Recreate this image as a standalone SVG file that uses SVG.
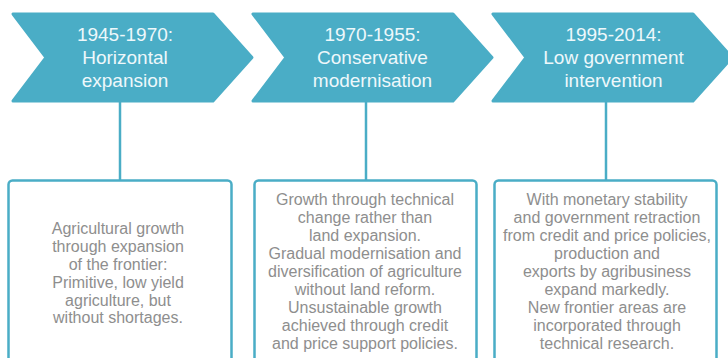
<svg xmlns="http://www.w3.org/2000/svg" width="728" height="358" viewBox="0 0 728 358">
<style>
.chev{fill:#4aadc6;stroke:#4aadc6;stroke-width:3;stroke-linejoin:round}
.ht{font-family:"Liberation Sans",Arial,sans-serif;font-size:19px;fill:#eef8fb;text-anchor:middle}
.box{fill:#ffffff;stroke:#4aadc6;stroke-width:2.5}
.bt{font-family:"Liberation Sans",Arial,sans-serif;font-size:16px;fill:#8e8e8e;text-anchor:middle}
.con{stroke:#4aadc6;stroke-width:2.5;fill:none}
</style>
<rect width="728" height="358" fill="#ffffff"/>
<g id="connectors">
<line class="con" x1="120" y1="102" x2="120" y2="181"/>
<line class="con" x1="366" y1="102" x2="366" y2="181"/>
<line class="con" x1="606" y1="102" x2="606" y2="181"/>
</g>
<g id="phase1">
<polygon class="chev" points="13,14 213,14 252,57.5 213,101 13,101 46,57.5"/>
<text class="ht" x="125" y="41">1945-1970:</text>
<text class="ht" x="125" y="64">Horizontal</text>
<text class="ht" x="125" y="87">expansion</text>
</g>
<g id="phase2">
<polygon class="chev" points="253,14 453,14 492,57.5 453,101 253,101 286,57.5"/>
<text class="ht" x="372.5" y="41">1970-1955:</text>
<text class="ht" x="372.5" y="64">Conservative</text>
<text class="ht" x="372.5" y="87">modernisation</text>
</g>
<g id="phase3">
<polygon class="chev" points="493,14 693,14 732,57.5 693,101 493,101 526,57.5"/>
<text class="ht" x="613.5" y="41">1995-2014:</text>
<text class="ht" x="613.5" y="64">Low government</text>
<text class="ht" x="613.5" y="87">intervention</text>
</g>
<g id="box1">
<rect class="box" x="8.5" y="180.5" width="223" height="190" rx="4"/>
<text class="bt" x="118" y="234">Agricultural growth</text>
<text class="bt" x="118" y="252">through expansion</text>
<text class="bt" x="118" y="270">of the frontier:</text>
<text class="bt" x="118" y="288">Primitive, low yield</text>
<text class="bt" x="118" y="305.5">agriculture, but</text>
<text class="bt" x="118" y="323">without shortages.</text>
</g>
<g id="box2">
<rect class="box" x="254.5" y="180.5" width="222" height="190" rx="4"/>
<text class="bt" x="365" y="205">Growth through technical</text>
<text class="bt" x="365" y="223">change rather than</text>
<text class="bt" x="365" y="241">land expansion.</text>
<text class="bt" x="365" y="259">Gradual modernisation and</text>
<text class="bt" x="365" y="277">diversification of agriculture</text>
<text class="bt" x="365" y="295">without land reform.</text>
<text class="bt" x="365" y="313">Unsustainable growth</text>
<text class="bt" x="365" y="331">achieved through credit</text>
<text class="bt" x="365" y="349">and price support policies.</text>
</g>
<g id="box3">
<rect class="box" x="494.5" y="180.5" width="222" height="190" rx="4"/>
<text class="bt" x="607" y="205">With monetary stability</text>
<text class="bt" x="607" y="223">and government retraction</text>
<text class="bt" x="607" y="241">from credit and price policies,</text>
<text class="bt" x="607" y="259">production and</text>
<text class="bt" x="607" y="277">exports by agribusiness</text>
<text class="bt" x="607" y="295">expand markedly.</text>
<text class="bt" x="607" y="313">New frontier areas are</text>
<text class="bt" x="607" y="331">incorporated through</text>
<text class="bt" x="607" y="349">technical research.</text>
</g>
</svg>
